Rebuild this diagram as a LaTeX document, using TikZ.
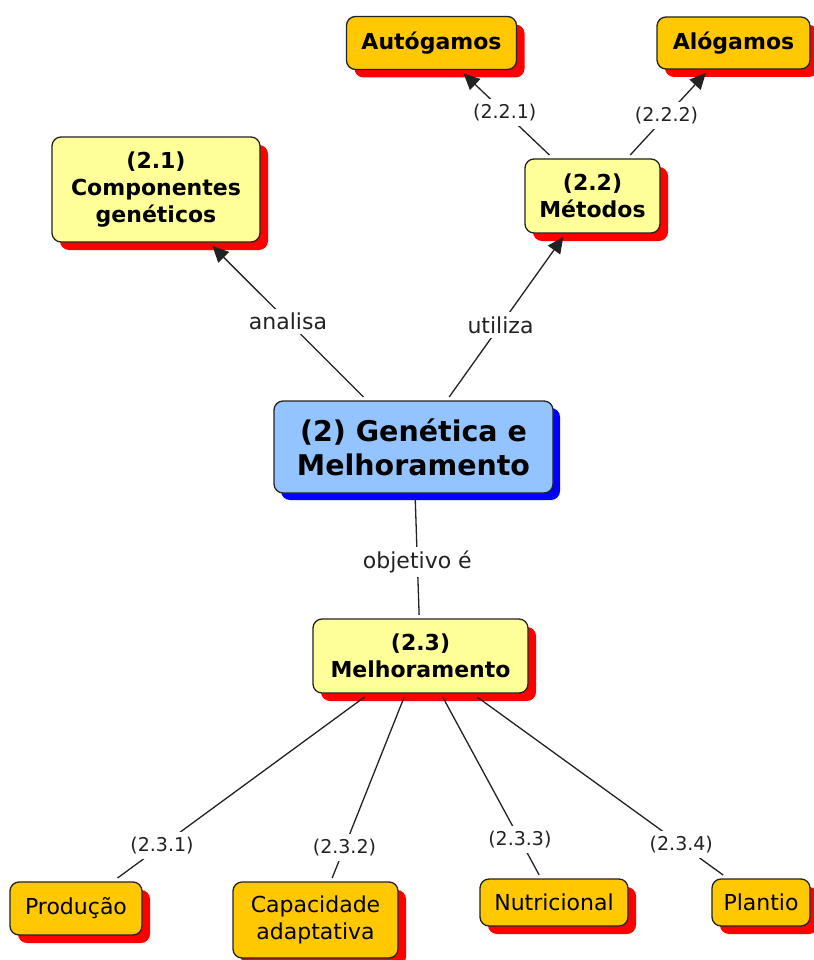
\documentclass[tikz,border=0pt]{standalone}
\usepackage{fontspec}
\setmainfont{DejaVu Sans}
\usetikzlibrary{arrows.meta,shadows}

\definecolor{pale}{HTML}{FFFF99}
\definecolor{gold}{HTML}{FFC800}
\definecolor{sky}{HTML}{94C4FF}
\definecolor{ink}{HTML}{222222}

\tikzset{
  concept/.style={draw=ink, line width=1.3pt, rounded corners=9pt, align=center,
    inner sep=0pt, outer sep=4pt},
  redshadow/.style={drop shadow={shadow xshift=8pt, shadow yshift=-8pt, fill=red, opacity=1}},
  blueshadow/.style={drop shadow={shadow xshift=7pt, shadow yshift=-7pt, fill=blue, opacity=1}},
  topic/.style={concept, fill=pale, redshadow, font=\bfseries\fontsize{22}{27}\selectfont},
  leaf/.style={concept, fill=gold, redshadow, font=\fontsize{22}{27}\selectfont},
  leafbold/.style={concept, fill=gold, redshadow, font=\bfseries\fontsize{22}{27}\selectfont},
  core/.style={concept, fill=sky, blueshadow, font=\bfseries\fontsize{28.5}{34}\selectfont},
  link/.style={draw=ink, line width=1.3pt},
  linkarrow/.style={link, -{Triangle[length=16pt,width=15pt]}},
  verb/.style={fill=white, inner sep=4pt, text=ink, font=\fontsize{22}{26}\selectfont},
  code/.style={fill=white, inner sep=5pt, text=ink, font=\fontsize{19}{23}\selectfont}
}

\begin{document}
\begin{tikzpicture}[x=1pt,y=-1pt]
\useasboundingbox (0,0) rectangle (813,960);

% concepts
\node[core, minimum width=279pt, minimum height=92pt] (main) at (413.5,447) {(2) Genética e\\Melhoramento};
\node[topic, minimum width=208pt, minimum height=105pt] (comp) at (156,189.5) {(2.1)\\Componentes\\genéticos};
\node[topic, minimum width=135pt, minimum height=74pt] (met) at (592.5,196) {(2.2)\\Métodos};
\node[topic, minimum width=215pt, minimum height=74pt] (mel) at (420.5,656) {(2.3)\\Melhoramento};
\node[leafbold, minimum width=170pt, minimum height=53pt] (auto) at (431.5,43) {Autógamos};
\node[leafbold, minimum width=153pt, minimum height=52pt] (alo) at (733.5,43) {Alógamos};
\node[leaf, minimum width=132pt, minimum height=53pt] (prod) at (76,908.5) {Produção};
\node[leaf, minimum width=165pt, minimum height=76pt] (cap) at (315.5,920) {Capacidade\\adaptativa};
\node[leaf, minimum width=148pt, minimum height=47pt] (nut) at (554,902.5) {Nutricional};
\node[leaf, minimum width=98pt, minimum height=47pt] (plan) at (761,902.5) {Plantio};

% links
\draw[linkarrow] (main) -- node[verb, pos=0.50] {analisa} (comp);
\draw[linkarrow] (main) -- node[verb, pos=0.45] {utiliza} (met);
\draw[linkarrow] (met) -- node[code, pos=0.52] {(2.2.1)} (auto);
\draw[linkarrow] (met) -- node[code, pos=0.48] {(2.2.2)} (alo);
\draw[link] (main) -- node[verb, pos=0.55] {objetivo é} (mel);
\draw[link] (mel) -- node[code, pos=0.82] {(2.3.1)} (prod);
\draw[link] (mel) -- node[code, pos=0.83] {(2.3.2)} (cap);
\draw[link] (mel) -- node[code, pos=0.80] {(2.3.3)} (nut);
\draw[link] (mel) -- node[code, pos=0.83] {(2.3.4)} (plan);
\end{tikzpicture}
\end{document}
